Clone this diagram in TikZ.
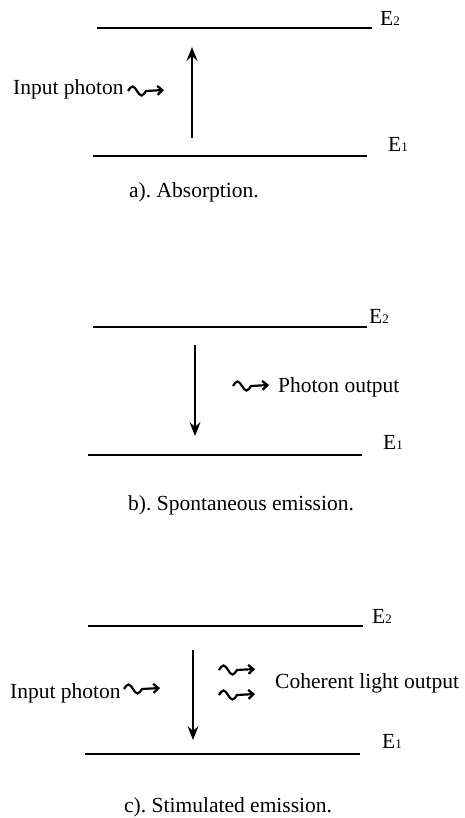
\documentclass[tikz,border=0pt]{standalone}
\usepackage{fontspec}
\setmainfont{Liberation Serif}
\usetikzlibrary{arrows.meta}
\tikzset{
  level/.style={line width=2pt},
  trans/.style={line width=1.8pt, -{Stealth[length=14pt,width=11pt,inset=5pt]}},
  lbl/.style={inner sep=0pt, font=\fontsize{21.5}{26}\selectfont, anchor=base west},
  photon/.style={line width=2.2pt, -{Straight Barb[length=5pt,width=9pt,line width=2.2pt]}},
  wave/.pic={\draw[photon] (0,0) sin (4.5,-4.5) cos (9,0) sin (13.5,4.5) cos (18,0) -- (36,-1);}
}
\newcommand{\Elev}[1]{E{\fontsize{13}{13}\selectfont #1}}
\begin{document}
\frenchspacing
\begin{tikzpicture}[x=1pt,y=-1pt]
\useasboundingbox (0,0) rectangle (464,818);
% ---------- a) Absorption
\coordinate (a2l) at (97,28);  \coordinate (a2r) at (372,28);
\coordinate (a1l) at (93,156); \coordinate (a1r) at (367,156);
\draw[level] (a2l) -- (a2r);
\draw[level] (a1l) -- (a1r);
\node[lbl] (aE2) at (380,26) {\Elev{2}};
\node[lbl] (aE1) at (388,152) {\Elev{1}};
\coordinate (aup0) at (192,138); \coordinate (aup1) at (192,47);
\draw[trans] (aup0) -- (aup1);
\node[lbl] (ain) at (13,95) {Input photon};
\pic at (128,91) {wave};
\node[lbl] (acap) at (129,198) {a). Absorption.};
% ---------- b) Spontaneous emission
\coordinate (b2l) at (93,327);  \coordinate (b2r) at (367,327);
\coordinate (b1l) at (88,455);  \coordinate (b1r) at (362,455);
\draw[level] (b2l) -- (b2r);
\draw[level] (b1l) -- (b1r);
\node[lbl] (bE2) at (369,323) {\Elev{2}};
\node[lbl] (bE1) at (383,449) {\Elev{1}};
\coordinate (bdn0) at (195,345); \coordinate (bdn1) at (195,436);
\draw[trans] (bdn0) -- (bdn1);
\pic at (233,386) {wave};
\node[lbl] (bout) at (278,392) {Photon output};
\node[lbl] (bcap) at (128,510) {b). Spontaneous emission.};
% ---------- c) Stimulated emission
\coordinate (c2l) at (88,626);  \coordinate (c2r) at (363,626);
\coordinate (c1l) at (85,754);  \coordinate (c1r) at (360,754);
\draw[level] (c2l) -- (c2r);
\draw[level] (c1l) -- (c1r);
\node[lbl] (cE2) at (372,623) {\Elev{2}};
\node[lbl] (cE1) at (382,748) {\Elev{1}};
\coordinate (cdn0) at (193,650); \coordinate (cdn1) at (193,740);
\draw[trans] (cdn0) -- (cdn1);
\node[lbl] (cin) at (10,698) {Input photon};
\pic at (124,689) {wave};
\pic at (219,670) {wave};
\pic at (219,695) {wave};
\node[lbl] (cout) at (275,688) {Coherent light output};
\node[lbl] (ccap) at (124,812) {c). Stimulated emission.};
\end{tikzpicture}
\end{document}
